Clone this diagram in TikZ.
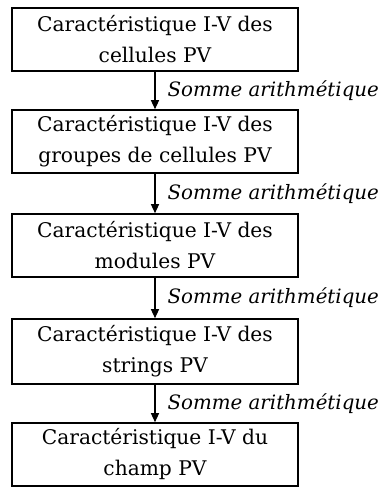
\documentclass[tikz,border=0pt]{standalone}
\usepackage{fontspec}
\setmainfont{DejaVu Serif}
\usetikzlibrary{arrows.meta}
\begin{document}
\begin{tikzpicture}[x=1pt,y=1pt,
  box/.style={draw,line width=1.6pt,minimum width=286pt,minimum height=63pt,inner sep=0pt,align=center,font=\fontsize{20.2}{31}\selectfont},
  arr/.style={line width=1.3pt,-{Triangle[length=9pt,width=8pt]}},
  lbl/.style={font=\fontsize{19.8}{22}\selectfont\itshape,anchor=west,inner sep=0pt}]
\useasboundingbox (0,0) rectangle (385,-487);
\node[box] (b1) at (155,-39.5) {Caractéristique I-V des\\cellules PV};
\node[box] (b2) at (155,-141.5) {Caractéristique I-V des\\groupes de cellules PV};
\node[box] (b3) at (155,-245.5) {Caractéristique I-V des\\modules PV};
\node[box,minimum height=65pt] (b4) at (155,-351.5) {Caractéristique I-V des\\strings PV};
\node[box] (b5) at (155,-454.5) {Caractéristique I-V du\\champ PV};
\draw[arr] (b1) -- (b2) node[lbl,pos=0.5,xshift=12pt] {Somme arithmétique};
\draw[arr] (b2) -- (b3) node[lbl,pos=0.5,xshift=12pt] {Somme arithmétique};
\draw[arr] (b3) -- (b4) node[lbl,pos=0.5,xshift=12pt] {Somme arithmétique};
\draw[arr] (b4) -- (b5) node[lbl,pos=0.5,xshift=12pt] {Somme arithmétique};
\end{tikzpicture}
\end{document}
